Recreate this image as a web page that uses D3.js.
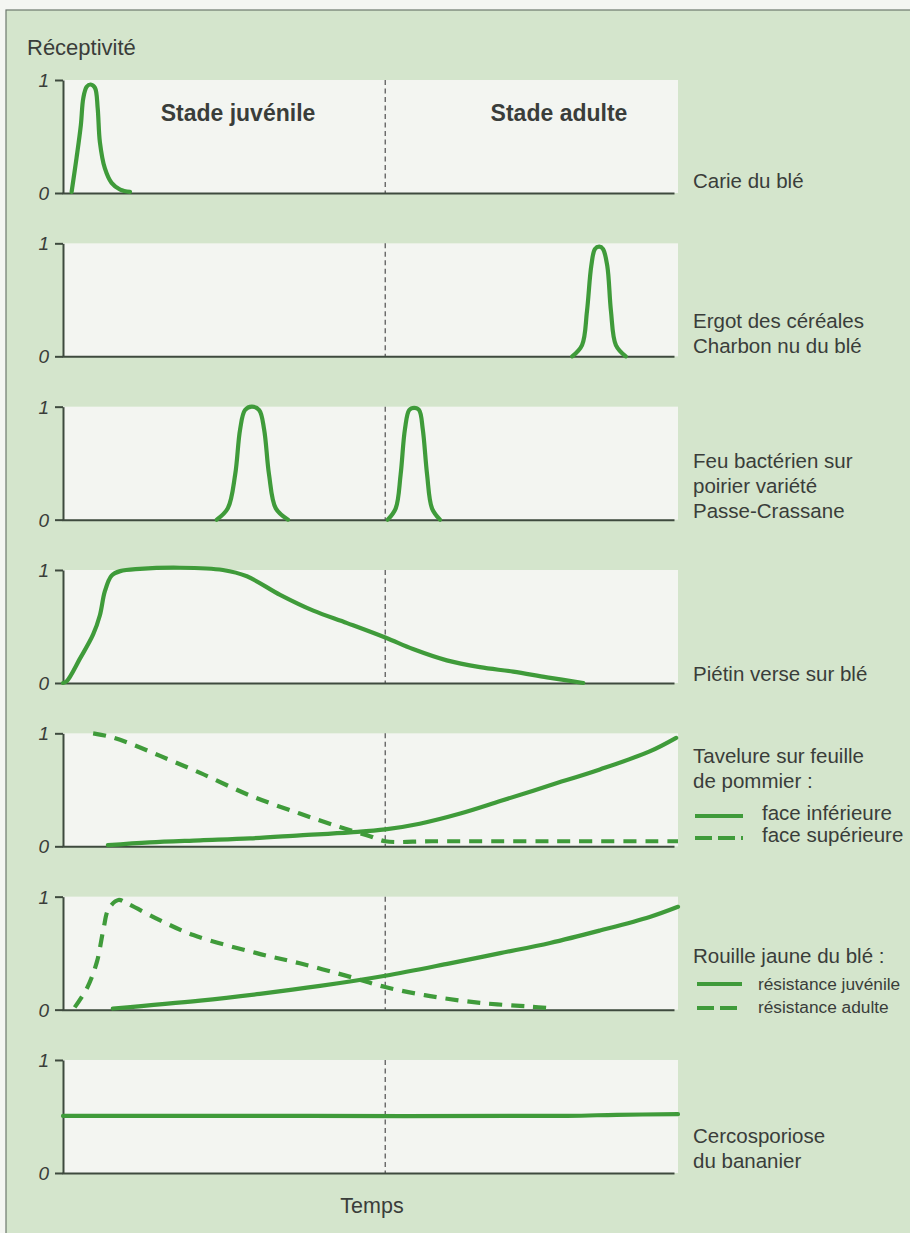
<!DOCTYPE html>
<html><head><meta charset="utf-8">
<script src="https://cdn.jsdelivr.net/npm/d3@7"></script>
<style>
html,body{margin:0;padding:0;background:#f4f6f2;}
svg{display:block;}
text{font-family:"Liberation Sans",Arial,Helvetica,sans-serif;fill:#3a3d3a;}
</style></head><body>
<svg id="chart" width="910" height="1233"></svg>
<script>
// ---- data (time 0..100, receptivity 0..1) ----
const yTicks = [0, 1];
const yTickLabels = ["0", "1"];
const stageLabels = ["Stade juvénile", "Stade adulte"];
const stageBoundary = 52.4;
const axisTitle = "Réceptivité";
const xTitle = "Temps";

const carieT = [1.4, 2.2, 2.9, 3.3, 3.85, 4.5, 5.2, 5.64, 6.0, 6.8, 7.9, 9.3, 10.9];
const carieV = [0.01, 0.31, 0.60, 0.84, 0.94, 0.96, 0.93, 0.75, 0.45, 0.22, 0.09, 0.03, 0.01];

const ergotT = [82.8, 84.4, 85.2, 85.9, 86.5, 87.2, 87.8, 88.5, 89.1, 89.9, 91.5];
const ergotV = [0, 0.1, 0.4, 0.8, 0.95, 0.97, 0.95, 0.8, 0.4, 0.1, 0];

const feu1T = [25.0, 26.8, 28.0, 28.8, 29.6, 30.7, 31.9, 32.7, 33.5, 34.6, 36.6];
const feu1V = [0, 0.1, 0.4, 0.8, 0.97, 1.0, 0.97, 0.8, 0.4, 0.1, 0];
const feu2T = [52.8, 54.1, 54.9, 55.6, 56.3, 57.1, 57.9, 58.5, 59.2, 60.0, 61.3];
const feu2V = [0, 0.1, 0.4, 0.8, 0.97, 0.99, 0.97, 0.8, 0.4, 0.1, 0];

const pietinT = [0, 0.6, 2.8, 4.9, 6.0, 6.8, 7.9, 9.3, 12.5, 19.0, 26.0, 29.9, 35.3, 40.7, 46.2, 52.5, 56.9, 62.4, 67.8, 73.2, 78.7, 84.6];
const pietinV = [0, 0.015, 0.22, 0.43, 0.60, 0.81, 0.95, 0.99, 1.01, 1.02, 1.0, 0.944, 0.78, 0.64, 0.53, 0.40, 0.30, 0.20, 0.14, 0.10, 0.05, 0];

const tavInfT = [7.3, 14.1, 22.3, 30.4, 38.5, 46.7, 52.4, 58.0, 64.6, 71.1, 79.2, 87.3, 95.4, 99.7];
const tavInfV = [0.01, 0.035, 0.053, 0.07, 0.097, 0.124, 0.15, 0.2, 0.29, 0.4, 0.54, 0.68, 0.84, 0.96];
const tavSupT = [4.9, 7.6, 10.9, 15.8, 22.3, 30.4, 38.5, 45.0, 49.9, 52.4, 60, 80, 100];
const tavSupV = [1.0, 0.97, 0.91, 0.80, 0.65, 0.45, 0.29, 0.17, 0.09, 0.045, 0.045, 0.045, 0.045];

const rouJuvT = [8.1, 22.3, 32.0, 41.8, 52.4, 62.9, 71.1, 79.2, 87.3, 95.4, 100];
const rouJuvV = [0.01, 0.08, 0.14, 0.21, 0.30, 0.41, 0.50, 0.59, 0.70, 0.82, 0.91];
const rouAduT = [1.9, 3.9, 5.5, 6.6, 7.4, 9.0, 10.4, 15.8, 21.2, 31.5, 38.5, 46.7, 52.4, 59.7, 67.8, 75.9, 80.0];
const rouAduV = [0.02, 0.19, 0.42, 0.72, 0.89, 0.97, 0.94, 0.79, 0.66, 0.50, 0.41, 0.29, 0.20, 0.12, 0.06, 0.027, 0.01];

const cercoT = [0, 40, 82, 90, 100];
const cercoV = [0.505, 0.505, 0.505, 0.515, 0.52];

const panelLabels = [
  ["Carie du blé"],
  ["Ergot des céréales", "Charbon nu du blé"],
  ["Feu bactérien sur", "poirier variété", "Passe-Crassane"],
  ["Piétin verse sur blé"],
  ["Tavelure sur feuille", "de pommier :"],
  ["Rouille jaune du blé :"],
  ["Cercosporiose", "du bananier"]
];
const legendTavelure = ["face inférieure", "face supérieure"];
const legendRouille = ["résistance juvénile", "résistance adulte"];

const zip = (t, v) => t.map((d, i) => ({t: d, v: v[i]}));
const panels = [
  {series: [{d: zip(carieT, carieV), dash: false}]},
  {series: [{d: zip(ergotT, ergotV), dash: false}]},
  {series: [{d: zip(feu1T, feu1V), dash: false}, {d: zip(feu2T, feu2V), dash: false}]},
  {series: [{d: zip(pietinT, pietinV), dash: false}]},
  {series: [{d: zip(tavSupT, tavSupV), dash: true}, {d: zip(tavInfT, tavInfV), dash: false}]},
  {series: [{d: zip(rouAduT, rouAduV), dash: true}, {d: zip(rouJuvT, rouJuvV), dash: false}]},
  {series: [{d: zip(cercoT, cercoV), dash: false}]}
];

// ---- layout ----
const GREEN = "#3f9b3a";
const AXIS = "#3e4a3e";
const svg = d3.select("#chart");
svg.append("rect").attr("x", 6).attr("y", 10).attr("width", 910).attr("height", 1240)
  .attr("fill", "#d4e5cc").attr("stroke", "#6d786d").attr("stroke-width", 1.2);

const x = d3.scaleLinear().domain([0, 100]).range([63, 678]);
const panelTop0 = 80, panelStep = 163.33, panelH = 113;

svg.append("text").attr("x", 27).attr("y", 55).attr("font-size", 22).text(axisTitle);

panels.forEach((p, i) => {
  const top = panelTop0 + i * panelStep;
  const y = d3.scaleLinear().domain([0, 1]).range([top + panelH, top]);
  const g = svg.append("g");
  g.append("rect").attr("x", x(0)).attr("y", y(1)).attr("width", x(100) - x(0)).attr("height", y(0) - y(1))
    .attr("fill", "#f3f5f1");
  g.append("line").attr("x1", x(stageBoundary)).attr("x2", x(stageBoundary))
    .attr("y1", y(1)).attr("y2", y(0))
    .attr("stroke", "#666").attr("stroke-width", 1.4).attr("stroke-dasharray", "5,3.5");
  const ya = g.append("g").attr("transform", `translate(${x(0)},0)`)
    .call(d3.axisLeft(y).tickValues(yTicks).tickSize(8).tickSizeOuter(0)
      .tickFormat(d => yTickLabels[yTicks.indexOf(d)]));
  ya.select(".domain").attr("stroke", AXIS).attr("stroke-width", 2);
  ya.selectAll(".tick line").attr("stroke", AXIS).attr("stroke-width", 2);
  ya.selectAll(".tick text").attr("font-size", 19).attr("font-style", "italic")
    .attr("font-family", "Liberation Sans, Arial, sans-serif").attr("fill", "#444").attr("x", -14).attr("dy", "0.35em");
  const xa = g.append("g").attr("transform", `translate(0,${y(0)})`)
    .call(d3.axisBottom(d3.scaleLinear().domain([0, 100]).range([x(0) - 1, 674])).tickValues([]).tickSizeOuter(0));
  xa.select(".domain").attr("stroke", AXIS).attr("stroke-width", 2);

  const line = d3.line().x(d => x(d.t)).y(d => y(d.v)).curve(d3.curveCatmullRom.alpha(0.5));
  p.series.forEach(s => {
    g.append("path").attr("d", line(s.d)).attr("fill", "none").attr("stroke", GREEN)
      .attr("stroke-width", 4.2)
      .attr("stroke-linecap", s.dash ? "butt" : "round")
      .attr("stroke-linejoin", "round")
      .attr("stroke-dasharray", s.dash ? "13,9" : null);
  });
});

svg.append("text").attr("x", 238).attr("y", 121).attr("text-anchor", "middle")
  .attr("font-size", 23).attr("font-weight", "bold").attr("fill", "#3b423b").text(stageLabels[0]);
svg.append("text").attr("x", 559).attr("y", 121).attr("text-anchor", "middle")
  .attr("font-size", 23).attr("font-weight", "bold").attr("fill", "#3b423b").text(stageLabels[1]);

const labelPos = [
  [188],
  [328, 353],
  [468, 493, 518],
  [681],
  [763, 788],
  [963],
  [1143, 1168]
];
panelLabels.forEach((lines, i) => {
  lines.forEach((t, k) => {
    svg.append("text").attr("x", 693).attr("y", labelPos[i][k]).attr("font-size", 20.5).text(t);
  });
});

function legend(items, ys, lineYs, x0, x1, tx, fs) {
  items.forEach((t, k) => {
    svg.append("line").attr("x1", x0).attr("x2", x1).attr("y1", lineYs[k]).attr("y2", lineYs[k])
      .attr("stroke", GREEN).attr("stroke-width", 4.2)
      .attr("stroke-dasharray", k === 1 ? "17,6" : null);
    svg.append("text").attr("x", tx).attr("y", ys[k]).attr("font-size", fs).text(t);
  });
}
legend(legendTavelure, [820, 842], [816, 838], 695, 743, 762, 20.5);
legend(legendRouille, [990, 1013], [984, 1008], 697, 742, 758, 17.3);

svg.append("text").attr("x", 372).attr("y", 1213).attr("text-anchor", "middle").attr("font-size", 21.5).text(xTitle);
</script>
</body></html>
